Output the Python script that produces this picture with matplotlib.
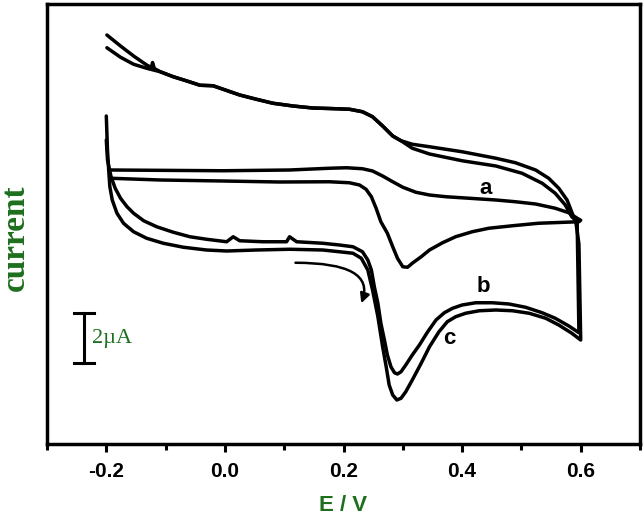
import matplotlib
matplotlib.use("Agg")
import matplotlib.pyplot as plt
from matplotlib.ticker import MultipleLocator

# ---- data (potential in V, current in µA, arbitrary offset) ----
b_E = [-0.200, -0.198, -0.192, -0.185, -0.176, -0.165, -0.154, -0.137, -0.115, -0.087,
       -0.059, -0.031, 0.003, 0.014, 0.025, 0.064, 0.104, 0.109, 0.121, 0.165, 0.193,
       0.216, 0.232, 0.241, 0.247, 0.252, 0.258, 0.263, 0.269, 0.274, 0.280,
       0.286, 0.291, 0.297, 0.305, 0.316, 0.328, 0.342, 0.356, 0.370, 0.384,
       0.400, 0.423, 0.451, 0.479, 0.507, 0.535, 0.557, 0.580, 0.597,
       0.594,
       0.585, 0.574, 0.557, 0.535, 0.501, 0.457, 0.400, 0.345, 0.316, 0.297,
       0.283, 0.266, 0.249, 0.232, 0.210, 0.176, 0.148, 0.115, 0.081, 0.053,
       0.025, -0.003, -0.020, -0.042, -0.064, -0.087, -0.109, -0.132, -0.154, -0.176, -0.199]
b_I = [12.16, 11.36, 10.69, 10.23, 9.83, 9.49, 9.23, 8.93, 8.69, 8.47,
       8.29, 8.19, 8.09, 8.29, 8.13, 8.09, 8.09, 8.29, 8.09, 8.03, 7.96,
       7.89, 7.69, 7.36, 6.96, 6.29, 5.63, 4.83, 4.16, 3.56, 3.09,
       2.85, 2.80, 2.89, 3.16, 3.56, 3.96, 4.49, 4.96, 5.25, 5.43,
       5.56, 5.65, 5.65, 5.60, 5.47, 5.25, 5.03, 4.72, 4.45,
       8.90,
       9.09, 9.56, 10.03, 10.43, 10.83, 11.12, 11.33, 11.60, 11.83, 12.13,
       12.32, 12.72, 13.09, 13.29, 13.39, 13.42, 13.44, 13.52, 13.63, 13.79,
       13.96, 14.19, 14.33, 14.35, 14.52, 14.69, 14.89, 15.03, 15.19, 15.47, 15.85]

c_E = [-0.200, -0.198, -0.196, -0.194, -0.190, -0.182, -0.171, -0.154, -0.132, -0.104,
       -0.070, -0.031, 0.003, 0.053, 0.109, 0.165, 0.193,
       0.216, 0.230, 0.241, 0.249, 0.258, 0.266, 0.272, 0.277, 0.283, 0.290,
       0.297, 0.305, 0.316, 0.331, 0.345, 0.361, 0.375, 0.389, 0.406, 0.429,
       0.457, 0.485, 0.513, 0.541, 0.563, 0.585, 0.600,
       0.597, 0.592,
       0.588, 0.577, 0.563, 0.546, 0.524, 0.490, 0.457, 0.400, 0.345, 0.316,
       0.297, 0.283, 0.266, 0.249, 0.232, 0.210, 0.176, 0.148, 0.115, 0.081,
       0.053, 0.025, -0.003, -0.020, -0.042, -0.064, -0.087, -0.109, -0.119, -0.122,
       -0.124, -0.132, -0.154, -0.176, -0.199]
c_I = [13.12, 11.76, 10.96, 10.29, 9.76, 9.23, 8.83, 8.49, 8.23, 8.03,
       7.87, 7.76, 7.72, 7.76, 7.79, 7.76, 7.69,
       7.63, 7.43, 6.96, 6.16, 5.09, 3.89, 3.09, 2.36, 1.96, 1.76,
       1.83, 2.09, 2.56, 3.23, 3.89, 4.49, 4.89, 5.09, 5.23, 5.33,
       5.36, 5.33, 5.23, 5.03, 4.76, 4.43, 4.16,
       8.00, 8.85,
       9.09, 9.76, 10.23, 10.63, 10.96, 11.25, 11.43, 11.69, 11.89, 11.99,
       12.13, 12.32, 12.72, 13.09, 13.29, 13.39, 13.42, 13.44, 13.52, 13.63,
       13.79, 13.96, 14.19, 14.33, 14.35, 14.52, 14.69, 14.89, 15.02, 15.26,
       15.06, 15.16, 15.52, 15.92, 16.36]

a_E = [-0.193, -0.109, -0.003, 0.092, 0.176, 0.210, 0.227, 0.238, 0.247, 0.255,
       0.263, 0.274, 0.283, 0.291, 0.300, 0.308, 0.316, 0.331, 0.345, 0.367,
       0.389, 0.417, 0.445, 0.485, 0.529, 0.574, 0.597, 0.600,
       0.594, 0.580, 0.557, 0.524, 0.490, 0.457, 0.412, 0.373, 0.345, 0.322,
       0.300, 0.283, 0.266, 0.249, 0.232, 0.205, 0.176, 0.109, -0.003, -0.193]
a_I = [10.63, 10.56, 10.52, 10.48, 10.49, 10.45, 10.36, 10.19, 9.89, 9.43,
       8.89, 8.43, 7.89, 7.43, 7.09, 7.07, 7.23, 7.49, 7.76, 8.05,
       8.29, 8.49, 8.63, 8.73, 8.83, 8.87, 8.89, 8.95,
       9.03, 9.25, 9.43, 9.60, 9.69, 9.76, 9.83, 9.89, 9.96, 10.07,
       10.27, 10.49, 10.72, 10.92, 11.01, 11.05, 11.03, 10.96, 10.93, 10.96]

curve_labels = ["a", "b", "c"]
label_E = [0.440, 0.435, 0.378]
label_I = [10.23, 6.29, 4.23]

arrow_start = (0.119, 7.25)
arrow_tip = (0.230, 5.63)

scalebar_E = -0.238
scalebar_I = [3.23, 5.23]   # 2 µA
scalebar_text = "2µA"

xticks_major = [-0.2, 0.0, 0.2, 0.4, 0.6]
xtick_labels = ["-0.2", "0.0", "0.2", "0.4", "0.6"]

GREEN = "#1d6f1d"
LW = 2.5

fig = plt.figure(figsize=(6.44, 5.19), dpi=100)
ax = fig.add_axes([47 / 644, 1 - 444 / 519, 593 / 644, 440 / 519])

for E, I in [(a_E, a_I), (b_E, b_I), (c_E, c_I)]:
    ax.plot(E, I, color="black", lw=LW, solid_joinstyle="round", solid_capstyle="round")

for lab, xe, yi in zip(curve_labels, label_E, label_I):
    ax.text(xe, yi, lab, ha="center", va="center", fontsize=16, fontweight="bold",
            family="Liberation Sans")

# scan-direction arrow
ax.annotate("", xy=arrow_tip, xytext=arrow_start,
            arrowprops=dict(arrowstyle="-|>", connectionstyle="angle3,angleA=0,angleB=70",
                            lw=1.8, color="black", mutation_scale=14, shrinkA=0, shrinkB=0))

# scale bar
ax.plot([scalebar_E, scalebar_E], scalebar_I, color="black", lw=2.2)
for yy in scalebar_I:
    ax.plot([scalebar_E - 0.016, scalebar_E + 0.018], [yy, yy], color="black", lw=2.2)
ax.text(-0.224, sum(scalebar_I) / 2, scalebar_text, ha="left", va="center", fontsize=16,
        color=GREEN, family="Liberation Serif")

ax.set_xlim(-0.3, 0.7)
ax.set_ylim(0, 17.6)
ax.set_xticks(xticks_major)
ax.set_xticklabels(xtick_labels, fontsize=15, fontweight="bold", family="Liberation Sans")
ax.xaxis.set_minor_locator(MultipleLocator(0.1))
ax.tick_params(axis="x", which="major", direction="out", length=6, width=2.2, pad=7)
ax.tick_params(axis="x", which="minor", direction="out", length=4, width=2.2)
ax.set_yticks([])
for s in ax.spines.values():
    s.set_linewidth(2.5)

ax.set_xlabel("E / V", fontsize=16, fontweight="bold", color=GREEN,
              family="Liberation Sans", labelpad=10)
fig.text(15 / 644, 1 - 238 / 519, "current", rotation=90, ha="center", va="center",
         fontsize=24, fontweight="bold", color=GREEN, family="Liberation Serif")

fig.savefig("out.png", dpi=100)
